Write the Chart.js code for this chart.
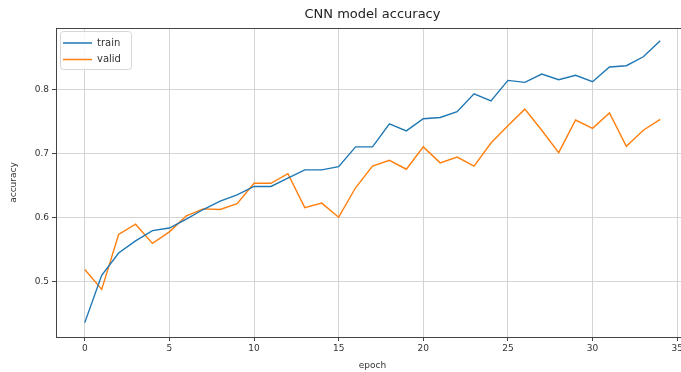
<!DOCTYPE html>
<html><head><meta charset="utf-8">
<script src="https://cdn.jsdelivr.net/npm/chart.js@4/dist/chart.umd.min.js"></script>
<style>
html,body{margin:0;padding:0;overflow:hidden;background:#fff;}
#wrap{position:relative;width:681px;height:372px;overflow:hidden;background:#fff;}
canvas{position:absolute;left:0;top:0;}
</style></head><body>
<div id="wrap"><canvas id="c" width="745" height="372" style="width:745px;height:372px"></canvas></div>
<script>
const epochs = [0,1,2,3,4,5,6,7,8,9,10,11,12,13,14,15,16,17,18,19,20,21,22,23,24,25,26,27,28,29,30,31,32,33,34];
const train = [0.436,0.510,0.545,0.564,0.580,0.584,0.598,0.613,0.626,0.636,0.649,0.649,0.662,0.675,0.675,0.680,0.711,0.711,0.747,0.736,0.755,0.757,0.766,0.794,0.783,0.815,0.812,0.825,0.816,0.823,0.813,0.836,0.838,0.852,0.877];
const valid = [0.519,0.488,0.574,0.590,0.560,0.578,0.603,0.614,0.613,0.622,0.654,0.654,0.669,0.616,0.623,0.601,0.647,0.681,0.690,0.676,0.711,0.686,0.695,0.681,0.717,0.744,0.770,0.737,0.702,0.753,0.740,0.764,0.712,0.737,0.754];
const xTicks = [0,5,10,15,20,25,30,35];
const yTicks = [0.5,0.6,0.7,0.8];
const seriesNames = ['train','valid'];
const seriesColors = ['#1f77b4','#ff7f0e'];

Chart.defaults.font.family = "'DejaVu Sans', sans-serif";
Chart.defaults.color = '#333';

const frameAndLegend = {
  id: 'frameAndLegend',
  afterDatasetsDraw(chart) {
    const ctx = chart.ctx, ca = chart.chartArea;
    ctx.save();
    ctx.strokeStyle = '#444';
    ctx.lineWidth = 1;
    ctx.strokeRect(Math.round(ca.left) + 0.5, Math.round(ca.top) + 0.5, Math.round(ca.right - ca.left), Math.round(ca.bottom - ca.top));
    // legend
    const bx = ca.left + 4, by = ca.top + 3, bw = 71, bh = 38;
    ctx.beginPath();
    if (ctx.roundRect) ctx.roundRect(bx + 0.5, by + 0.5, bw, bh, 3); else ctx.rect(bx + 0.5, by + 0.5, bw, bh);
    ctx.fillStyle = 'rgba(255,255,255,0.85)';
    ctx.fill();
    ctx.strokeStyle = '#d6d6d6';
    ctx.stroke();
    ctx.font = "10px 'DejaVu Sans', sans-serif";
    ctx.textBaseline = 'middle';
    chart.data.datasets.forEach((ds, i) => {
      const yy = by + 12 + i * 16.5;
      ctx.strokeStyle = ds.borderColor;
      ctx.lineWidth = 1.5;
      ctx.beginPath();
      ctx.moveTo(bx + 3, yy);
      ctx.lineTo(bx + 32, yy);
      ctx.stroke();
      ctx.fillStyle = '#333';
      ctx.fillText(ds.label, bx + 37, yy);
    });
    ctx.restore();
  }
};

new Chart(document.getElementById('c'), {
  type: 'line',
  data: {
    datasets: [
      { label: seriesNames[0], data: epochs.map((e, i) => ({x: e, y: train[i]})), borderColor: seriesColors[0], backgroundColor: seriesColors[0], borderWidth: 1.4, pointRadius: 0, tension: 0 },
      { label: seriesNames[1], data: epochs.map((e, i) => ({x: e, y: valid[i]})), borderColor: seriesColors[1], backgroundColor: seriesColors[1], borderWidth: 1.4, pointRadius: 0, tension: 0 }
    ]
  },
  options: {
    responsive: false,
    devicePixelRatio: 1,
    animation: false,
    layout: { padding: 0 },
    plugins: {
      legend: { display: false },
      tooltip: { enabled: false },
      title: {
        display: true,
        text: 'CNN model accuracy',
        color: '#222',
        font: { size: 13, weight: 'normal' },
        padding: { top: 7.2, bottom: 5.2 }
      }
    },
    scales: {
      x: {
        type: 'linear',
        min: -1.7,
        max: 35.7,
        afterBuildTicks: s => { s.ticks = xTicks.map(v => ({value: v})); },
        afterFit: s => { s.height = 35; },
        border: { display: false },
        grid: { color: '#d4d4d4', lineWidth: 1, drawTicks: true, tickLength: 4, tickColor: '#444', tickWidth: 1 },
        ticks: { font: { size: 9 }, color: '#333', padding: 2, maxRotation: 0, autoSkip: false, callback: v => String(v) },
        title: { display: true, text: 'epoch', font: { size: 9 }, color: '#333', padding: { top: 0, bottom: 0.6 } }
      },
      y: {
        type: 'linear',
        position: 'left',
        min: 0.4135,
        max: 0.897,
        afterBuildTicks: s => { s.ticks = yTicks.map(v => ({value: v})); },
        afterFit: s => { s.width = 56; },
        border: { display: false },
        grid: { color: '#d4d4d4', lineWidth: 1, drawTicks: true, tickLength: 4, tickColor: '#444', tickWidth: 1 },
        ticks: { font: { size: 9 }, color: '#333', padding: 3, autoSkip: false, callback: v => v.toFixed(1) },
        title: { display: true, text: 'accuracy', font: { size: 9 }, color: '#333', padding: { top: 8.6, bottom: 0 } }
      },
      yRight: {
        type: 'linear',
        position: 'right',
        min: 0.4135,
        max: 0.897,
        afterFit: s => { s.width = 56; },
        border: { display: false },
        grid: { display: false, drawTicks: false },
        ticks: { display: false }
      }
    }
  },
  plugins: [frameAndLegend]
});
</script>
</body></html>
